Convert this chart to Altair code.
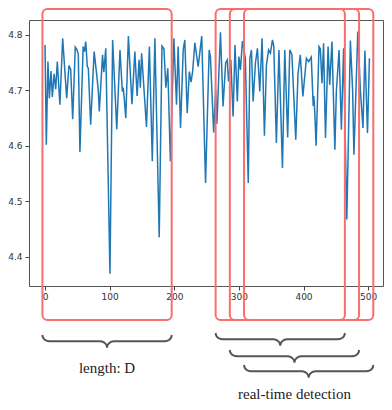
import math
import altair as alt
import pandas as pd

# ---- series vertices ----
x_vals = [0, 2, 4.5, 6.7, 9.3, 11.3, 14, 16.5, 19, 23, 27.3, 33.5, 37, 39.7, 42.8, 46.8, 49.5, 51.5, 54,
          59, 61, 63, 65.4, 67, 70.6, 76, 80, 82.4, 84, 89, 91, 94, 100.5, 104.6, 111, 116, 119.6, 121,
          123, 125, 129, 134.5, 139, 142.5, 145.5, 147.5, 149.5, 157, 161.5, 166, 170, 176.7, 181, 184,
          187, 190, 194, 199.4, 203.5, 206, 209.7, 213.8, 216.3, 220, 223.3, 226, 228.5, 231.8, 237,
          242.5, 248.4, 254, 256, 261, 264, 266, 271.5, 275.5, 279.5, 282, 284, 287.5, 291, 294, 297.6,
          300, 302.4, 305.5, 310, 314.5, 317, 319.4, 322, 325.6, 328.7, 332.3, 335.9, 339.5, 342.6, 346,
          348.8, 351.9, 354, 358, 362, 367.4, 371, 375.5, 378.7, 382, 388, 391.5, 395, 399, 404.5, 408,
          412, 415, 416, 417.5, 419.5, 424, 426, 428.6, 431, 434, 438, 440.5, 444, 448.5, 450.8, 455,
          458.6, 462, 467, 472.5, 476, 478, 484, 488, 492, 495, 499, 502]
y_vals = [4.782, 4.602, 4.752, 4.686, 4.735, 4.688, 4.730, 4.702, 4.752, 4.674, 4.794, 4.686, 4.745,
          4.738, 4.648, 4.778, 4.773, 4.765, 4.589, 4.779, 4.770, 4.788, 4.743, 4.740, 4.638, 4.770,
          4.728, 4.700, 4.662, 4.764, 4.733, 4.776, 4.369, 4.791, 4.630, 4.773, 4.698, 4.705, 4.680,
          4.650, 4.798, 4.675, 4.770, 4.690, 4.755, 4.705, 4.767, 4.634, 4.779, 4.572, 4.794, 4.435,
          4.780, 4.775, 4.705, 4.740, 4.572, 4.794, 4.674, 4.779, 4.632, 4.773, 4.791, 4.659, 4.734,
          4.715, 4.735, 4.786, 4.743, 4.798, 4.533, 4.773, 4.760, 4.624, 4.700, 4.640, 4.805, 4.671,
          4.750, 4.755, 4.716, 4.755, 4.653, 4.782, 4.680, 4.761, 4.737, 4.789, 4.758, 4.533, 4.758,
          4.773, 4.680, 4.749, 4.776, 4.698, 4.794, 4.618, 4.746, 4.773, 4.767, 4.791, 4.780, 4.605,
          4.773, 4.560, 4.773, 4.615, 4.773, 4.765, 4.611, 4.731, 4.764, 4.689, 4.758, 4.752, 4.760,
          4.672, 4.690, 4.659, 4.600, 4.779, 4.775, 4.713, 4.785, 4.614, 4.779, 4.710, 4.788, 4.593,
          4.698, 4.773, 4.629, 4.776, 4.467, 4.790, 4.700, 4.584, 4.806, 4.700, 4.632, 4.772, 4.623,
          4.758]

x_ticks = [0, 100, 200, 300, 400, 500]
y_ticks = [4.4, 4.5, 4.6, 4.7, 4.8]

# detection windows (x range, data units)
win_start = [-4, 264, 286, 308]
win_end = [196, 464, 486, 508]
brace_top_px = [315, 313, 330, 345]  # below plot top, px

labels = ["length: D", "real-time detection"]
label_x = [96, 386]
label_y_px = [353, 379]

# ---- layout / scales ----
W, H = 354, 266
XD = [-24.8, 523]
YD = [4.347, 4.827]


def px_to_dx(p):
    return p * (XD[1] - XD[0]) / W


def py_to_y(p):
    return YD[1] - p * (YD[1] - YD[0]) / H


xs = alt.Scale(domain=XD, nice=False, zero=False)
ys = alt.Scale(domain=YD, nice=False, zero=False)

x_axis = alt.Axis(values=x_ticks, format="d", grid=False, domain=False,
                  tickColor="#444", tickSize=4, labelFontSize=9,
                  labelColor="#333", labelPadding=2, labelFont="DejaVu Sans")
y_axis = alt.Axis(values=y_ticks, format=".1f", grid=False, domain=False,
                  tickColor="#444", tickSize=4, labelFontSize=9,
                  labelColor="#333", labelPadding=3, labelFont="DejaVu Sans")

series = pd.DataFrame({"x": x_vals, "y": y_vals})

line = alt.Chart(series).mark_line(color="#1f77b4", strokeWidth=1.5).encode(
    x=alt.X("x:Q", scale=xs, title=None, axis=x_axis),
    y=alt.Y("y:Q", scale=ys, title=None, axis=y_axis),
)

wins = pd.DataFrame({"s": win_start, "e": win_end})
boxes = alt.Chart(wins).mark_rect(
    fill=None, fillOpacity=0, stroke="#f76e6e", strokeWidth=2, cornerRadius=5
).encode(
    x=alt.X("s:Q", scale=xs, title=None, axis=x_axis),
    x2="e:Q",
    y=alt.value(-11),
    y2=alt.value(300),
)

rows = []
r_px, h_px = 7, 6.3
for i, (a, b, t) in enumerate(zip(win_start, win_end, brace_top_px)):
    r = px_to_dx(r_px)
    m = (a + b) / 2
    pts = []
    for k in range(7):
        th = math.pi / 2 * k / 6
        pts.append((a + r * (1 - math.cos(th)), t + h_px * math.sin(th)))
    for k in range(7):
        ph = math.pi / 2 * k / 6
        pts.append((m - r + r * math.sin(ph), t + h_px + h_px * (1 - math.cos(ph))))
    right = [(2 * m - px, py) for px, py in reversed(pts)]
    allp = pts + right[1:]
    for j, (px, py) in enumerate(allp):
        rows.append({"b": i, "o": j, "x": px, "y": py_to_y(py)})
braces_df = pd.DataFrame(rows)

braces = alt.Chart(braces_df).mark_line(color="#555555", strokeWidth=2).encode(
    x=alt.X("x:Q", scale=xs, title=None, axis=x_axis),
    y=alt.Y("y:Q", scale=ys, title=None, axis=y_axis),
    detail="b:N",
    order="o:Q",
)

lab_df = pd.DataFrame({"t": labels, "x": label_x, "y": [py_to_y(p) for p in label_y_px]})
texts = alt.Chart(lab_df).mark_text(
    font="Liberation Serif", fontSize=15, color="#222222", align="center", baseline="alphabetic"
).encode(
    x=alt.X("x:Q", scale=xs, title=None, axis=x_axis),
    y=alt.Y("y:Q", scale=ys, title=None, axis=y_axis),
    text="t:N",
)

chart = alt.layer(line, boxes, braces, texts).properties(
    width=W, height=H,
    autosize=alt.AutoSizeParams(type="none"),
    padding={"left": 21, "top": 12, "right": 1, "bottom": 116},
).configure_view(stroke="#555555", strokeWidth=1)

chart.save("out.html", embed_options={"renderer": "svg", "actions": False})
